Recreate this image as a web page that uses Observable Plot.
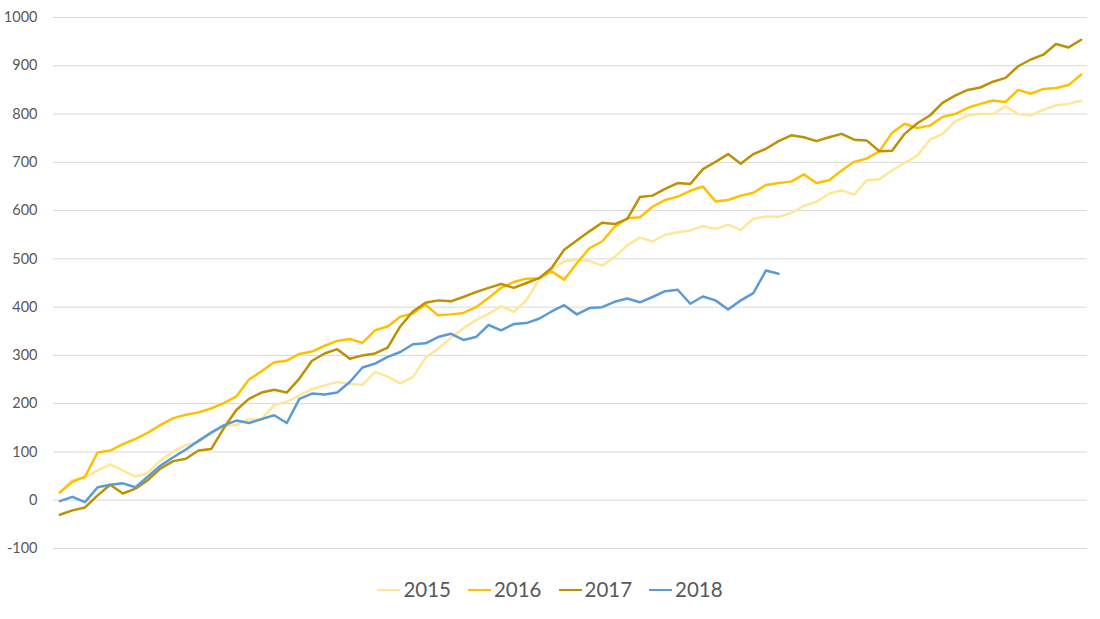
<!DOCTYPE html>
<html>
<head>
<meta charset="utf-8">
<script src="https://cdn.jsdelivr.net/npm/d3@7"></script>
<script src="https://cdn.jsdelivr.net/npm/@observablehq/plot@0.6"></script>
<style>
  body { margin: 0; background: #fff; font-family: Lato, "Open Sans", sans-serif; }
  #chart svg { display: block; }
  #legend { display: flex; justify-content: center; align-items: center; padding-top: 14px; height: 30px; }
  .item { display: flex; align-items: center; margin: 0 8.5px; }
  .sw { width: 23px; height: 2.5px; margin-right: 3px; margin-top: 2px; }
  .lb { font-size: 20.5px; color: #595959; line-height: 24px; }
</style>
</head>
<body>
<div id="chart"></div>
<div id="legend"></div>
<script>
const years = ["2015", "2016", "2017", "2018"];
const colors = ["#FFE699", "#FFC000", "#BF9000", "#5B9BD5"];
const yTicks = [-100, 0, 100, 200, 300, 400, 500, 600, 700, 800, 900, 1000];

const v2015 = [16,42,47,62,74,62,49,57,83,101,114,121,138,153,156,168,168,197,204,217,230,238,245,241,239,266,256,242,255,295,314,336,356,373,386,402,390,414,457,478,495,498,496,486,504,528,544,536,550,555,559,568,562,571,560,583,588,587,595,610,618,635,642,633,663,665,683,699,714,747,759,785,797,800,800,816,800,797,809,818,821,828];
const v2016 = [16,38,49,99,103,116,127,140,156,170,177,182,190,201,215,250,267,286,289,303,308,320,330,334,326,352,360,380,387,405,383,385,388,400,419,440,452,459,460,474,457,491,522,536,566,584,586,608,622,629,641,650,619,622,631,637,653,657,660,675,657,663,683,701,708,723,761,780,771,776,794,800,813,821,828,825,850,842,852,854,860,882];
const v2017 = [-30,-21,-15,10,32,14,24,42,66,81,86,103,106,149,187,210,223,229,223,252,289,304,313,293,300,304,316,360,391,409,414,412,421,431,440,448,440,450,460,481,519,538,557,575,572,583,628,631,645,657,655,686,701,717,697,717,728,744,756,752,744,752,759,747,745,723,724,759,781,797,823,838,850,855,867,875,899,913,923,945,938,954];
const v2018 = [-2,7,-4,27,32,35,27,49,72,89,105,123,140,155,165,160,168,176,160,210,221,219,223,245,275,283,297,307,323,325,338,345,332,338,363,352,365,367,376,391,404,385,398,400,411,418,410,421,433,436,407,422,414,395,414,429,476,469];

const seriesValues = [v2015, v2016, v2017, v2018];
const rows = [];
seriesValues.forEach((vals, s) => {
  vals.forEach((v, i) => rows.push({ year: years[s], week: i, value: v }));
});

const nWeeks = v2015.length;

const chart = Plot.plot({
  width: 1100,
  height: 560,
  marginTop: 17,
  marginBottom: 12,
  marginLeft: 53,
  marginRight: 13,
  style: { fontFamily: "Lato, 'Open Sans', sans-serif", fontSize: "14.5px", color: "#595959", background: "#fff" },
  x: { domain: [-0.5, nWeeks - 0.5], axis: null },
  y: { domain: [-100, 1000], ticks: yTicks, tickSize: 0, tickPadding: 16, label: null, tickFormat: d => String(d) },
  color: { domain: years, range: colors },
  marks: [
    Plot.ruleY(yTicks, { stroke: "#d9d9d9", strokeWidth: 1 }),
    Plot.axisY({ ticks: yTicks, tickSize: 0, tickPadding: 16, label: null, fill: "#595959", fontSize: 14.5, tickFormat: d => String(d) }),
    Plot.line(rows, { x: "week", y: "value", z: "year", stroke: "year", strokeWidth: 2.5, strokeLinejoin: "round", strokeLinecap: "round" })
  ]
});
document.getElementById("chart").appendChild(chart);

const legend = document.getElementById("legend");
years.forEach((y, i) => {
  const item = document.createElement("div");
  item.className = "item";
  const sw = document.createElement("div");
  sw.className = "sw";
  sw.style.background = colors[i];
  const lb = document.createElement("span");
  lb.className = "lb";
  lb.textContent = y;
  item.appendChild(sw);
  item.appendChild(lb);
  legend.appendChild(item);
});
</script>
</body>
</html>
